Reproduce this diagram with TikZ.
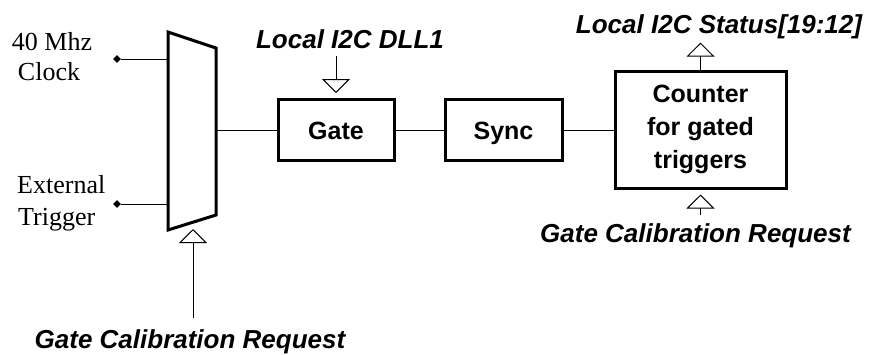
\documentclass[tikz,border=0pt]{standalone}
\usepackage{fontspec}
\setmainfont{Liberation Serif}
\newfontfamily\lsans{Liberation Sans}
\usetikzlibrary{arrows.meta,shapes.geometric}
\begin{document}
\begin{tikzpicture}[x=1pt,y=-1pt,
  blk/.style={draw, line width=3pt, minimum height=61pt, inner sep=0pt,
    font=\lsans\bfseries\fontsize{25}{33}\selectfont, align=center},
  lbl/.style={font=\lsans\bfseries\itshape\fontsize{26}{30}\selectfont, inner sep=0pt},
  ser/.style={font=\fontsize{26}{30}\selectfont, inner sep=0pt},
  wire/.style={line width=1pt},
  ctl/.style={line width=1pt, -{Triangle[open, width=28pt, length=14pt]}},
  dot/.style={diamond, fill, inner sep=0pt, minimum size=8pt}]
\useasboundingbox (0,0) rectangle (869,354);
% multiplexer
\coordinate (m1) at (168,32);
\coordinate (m2) at (216,48);
\coordinate (m3) at (216,215);
\coordinate (m4) at (168,230);
\draw[line width=3pt] (m1) -- (m2) -- (m3) -- (m4) -- cycle;
\coordinate (min1) at (168,59);
\coordinate (min2) at (168,204);
\coordinate (msel) at (193,229);
% inputs
\node[dot] (d1) at (117,59) {};
\node[dot] (d2) at (117,204) {};
\draw[wire] (d1) -- (min1);
\draw[wire] (d2) -- (min2);
\node[ser, anchor=base] (clk1) at (52,50) {40 Mhz};
\node[ser, anchor=base] (clk2) at (49,80) {Clock};
\node[ser, anchor=base west] (ext1) at (17,193) {External};
\node[ser, anchor=base west] (ext2) at (18,225) {Trigger};
% blocks
\node[blk, minimum width=116pt, text height=18pt, text depth=0pt] (gate) at (336,130) {Gate};
\node[blk, minimum width=117pt, text height=18pt, text depth=0pt] (sync) at (503.5,130) {Sync};
\node[blk, minimum width=171pt, minimum height=117pt] (cnt) at (700.5,129.5) {Counter\\for gated\\triggers};
\coordinate (mout) at (gate.west -| m2);
\draw[wire] (mout) -- (gate.west);
\draw[wire] (gate.east) -- (sync.west);
\draw[wire] (sync.east) -- (sync.east -| cnt.west);
% labels
\node[lbl, anchor=base] (dll) at (350,48) {Local I2C DLL1};
\node[lbl, anchor=base] (stat) at (719,33) {Local I2C Status[19:12]};
\node[lbl, anchor=base] (req2) at (695.5,242) {Gate Calibration Request};
\node[lbl, anchor=base] (req1) at (190,348) {Gate Calibration Request};
% control arrows
\draw[ctl, shorten <=8pt, shorten >=5pt] (dll.south -| gate.north) -- (gate.north);
\draw[ctl, shorten >=4pt] (cnt.north) -- (cnt.north |- stat.south);
\draw[ctl, shorten <=8pt, shorten >=5pt] (cnt.south |- req2.north) -- (cnt.south);
\draw[ctl, shorten <=11pt] (msel |- req1.north) -- (msel);
\end{tikzpicture}
\end{document}
